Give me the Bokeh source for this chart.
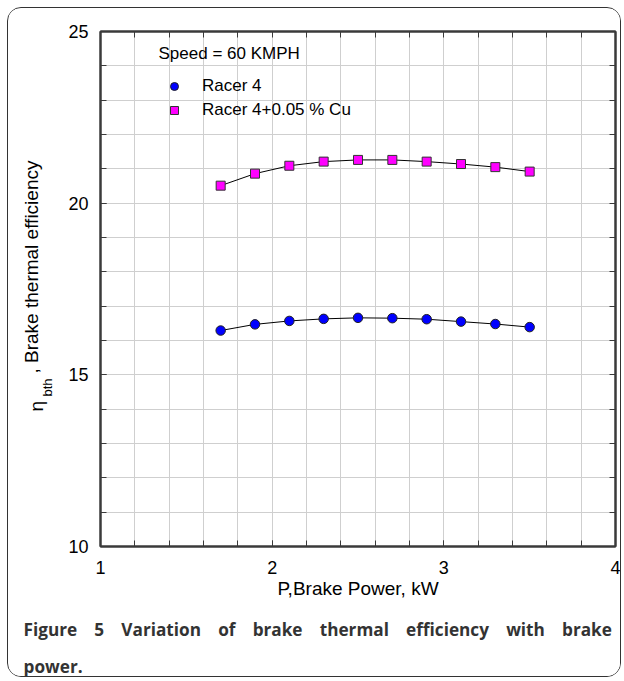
import math
from bokeh.plotting import figure
from bokeh.models import (Range1d, FixedTicker, LinearAxis, Label, Legend, LegendItem,
                          ColumnDataSource, Title)
from bokeh.embed import file_html
from bokeh.resources import INLINE

# ---- data ----
brake_power = [1.7, 1.9, 2.1, 2.3, 2.5, 2.7, 2.9, 3.1, 3.3, 3.5]
racer4 = [16.29, 16.47, 16.57, 16.63, 16.66, 16.65, 16.62, 16.55, 16.48, 16.39]
racer4_cu = [20.51, 20.86, 21.09, 21.21, 21.26, 21.26, 21.21, 21.14, 21.05, 20.92]
series_names = ["Racer 4", "Racer 4+0.05 % Cu"]

x_major = [1, 2, 3, 4]
x_minor = [round(1 + 0.2 * i, 1) for i in range(16)]
y_major = [10, 15, 20, 25]
y_minor = list(range(10, 26))

caption_words = ["Figure", "5", "Variation", "of", "brake", "thermal", "efficiency",
                 "with", "brake"]
caption_tail = "power."

FONT = "Liberation Sans"
DARK = "#3a3a3a"

# canvas sits inside a 7px margin + 1.5px rounded border
p = figure(width=614, height=670, output_backend="svg", toolbar_location=None,
           x_range=Range1d(1, 4), y_range=Range1d(10, 25),
           min_border_left=91, min_border_right=7, min_border_top=23, min_border_bottom=132,
           background_fill_color="white", border_fill_color="white")
p.styles = {"margin-left": "7px", "margin-top": "7px", "border": "1.5px solid #333333",
            "border-radius": "14px", "overflow": "hidden"}

p.outline_line_color = DARK
p.outline_line_width = 2

for g, maj, mnr in ((p.xgrid, x_major, x_minor), (p.ygrid, y_major, y_minor)):
    g.ticker = FixedTicker(ticks=maj, minor_ticks=mnr)
    g.grid_line_color = "#cfcfcf"
    g.grid_line_width = 1
    g.minor_grid_line_color = "#cfcfcf"
    g.minor_grid_line_width = 1

def style_axis(ax, size="18px"):
    ax.major_tick_in = 6
    ax.major_tick_out = 0
    ax.minor_tick_in = 6
    ax.minor_tick_out = 0
    ax.major_tick_line_color = DARK
    ax.minor_tick_line_color = DARK
    ax.axis_line_color = DARK
    ax.axis_line_width = 2
    ax.major_label_text_font = FONT
    ax.major_label_text_font_size = size
    ax.major_label_text_color = "black"

xa = p.xaxis[0]
xa.ticker = FixedTicker(ticks=x_major, minor_ticks=x_minor)
style_axis(xa)
xa.major_label_standoff = 14
xa.axis_label = "P,Brake Power, kW"
xa.axis_label_text_font = FONT
xa.axis_label_text_font_size = "19px"
xa.axis_label_text_font_style = "normal"
xa.axis_label_text_color = "black"
xa.axis_label_standoff = 1

ya = p.yaxis[0]
ya.ticker = FixedTicker(ticks=y_major, minor_ticks=y_minor)
style_axis(ya)
ya.major_label_standoff = 12

top = LinearAxis(ticker=FixedTicker(ticks=[], minor_ticks=x_minor))
style_axis(top)
p.add_layout(top, "above")
right = LinearAxis(ticker=FixedTicker(ticks=[], minor_ticks=y_minor))
style_axis(right)
p.add_layout(right, "right")

src = ColumnDataSource(dict(x=brake_power, a=racer4, b=racer4_cu))
p.line("x", "a", source=src, line_color="black", line_width=1)
p.line("x", "b", source=src, line_color="black", line_width=1)
r1 = p.scatter("x", "a", source=src, marker="circle", size=9.5,
               fill_color="#0000ff", line_color="#222222", line_width=1)
r2 = p.scatter("x", "b", source=src, marker="square", size=9,
               fill_color="#ff00ff", line_color="#333333", line_width=1)

legend = Legend(items=[LegendItem(label=series_names[0], renderers=[r1]),
                       LegendItem(label=series_names[1], renderers=[r2])],
                location=(64, 426), margin=0, padding=0, spacing=4,
                glyph_width=20, glyph_height=20, label_height=20, label_standoff=18,
                border_line_color=None, background_fill_alpha=0,
                label_text_font=FONT, label_text_font_size="17px", label_text_color="black")
p.add_layout(legend)

p.add_layout(Label(x=58, y=492.7, x_units="screen", y_units="screen", text="Speed = 60 KMPH",
                   text_font=FONT, text_font_size="17px", text_baseline="middle",
                   text_color="black"))

# y axis label (rotated, with subscript) in the left side panel
rot = math.pi / 2
for txt, xx, yy, fs in (("η", -8, 135, "19px"), ("bth", 17.5, 150, "13px"),
                        (", Brake thermal efficiency", 23, 173, "19px")):
    p.add_layout(Label(x=xx, y=yy, x_units="screen", y_units="screen", text=txt, angle=rot,
                       text_font=FONT, text_font_size=fs, text_baseline="alphabetic",
                       text_align="left", text_color="black"), "left")

# caption (justified look: wider word gaps)
gap = "\u2002\u2002"
p.add_layout(Title(text=gap.join(caption_words), align="left", offset=-77, standoff=28,
                   text_font="Open Sans", text_font_size="17.2px", text_font_style="bold",
                   text_color="#333333"), "below")
p.add_layout(Title(text=caption_tail, align="left", offset=-77, standoff=-4,
                   text_font="Open Sans", text_font_size="17.2px", text_font_style="bold",
                   text_color="#333333"), "below")

open("out.html", "w").write(file_html(p, INLINE))
